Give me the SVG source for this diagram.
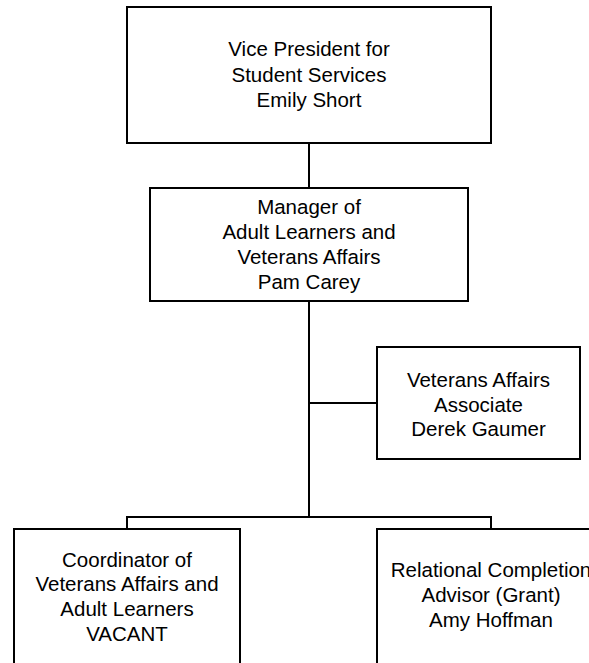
<svg xmlns="http://www.w3.org/2000/svg" width="589" height="663" viewBox="0 0 589 663">
<style>
.box{fill:#fff;stroke:#000;stroke-width:2}
.ln{stroke:#000;stroke-width:2;fill:none}
text{font-family:"Liberation Sans",Arial,sans-serif;font-size:20.5px;fill:#000;text-anchor:middle}
</style>
<rect width="589" height="663" fill="#fff"/>
<g id="connectors">
<path class="ln" d="M309 143V188M309 301V517M309 403H377M127 529V517H491V529"/>
</g>
<g id="vp">
<rect class="box" x="127" y="7" width="364" height="136"/>
<text x="309" y="56">Vice President for</text>
<text x="309" y="81.5">Student Services</text>
<text x="309" y="107">Emily Short</text>
</g>
<g id="manager">
<rect class="box" x="150" y="188" width="318" height="113"/>
<text x="309" y="214">Manager of</text>
<text x="309" y="239">Adult Learners and</text>
<text x="309" y="264">Veterans Affairs</text>
<text x="309" y="289">Pam Carey</text>
</g>
<g id="associate">
<rect class="box" x="377" y="347" width="203" height="112"/>
<text x="478.5" y="387">Veterans Affairs</text>
<text x="478.5" y="411.5">Associate</text>
<text x="478.5" y="436">Derek Gaumer</text>
</g>
<g id="coordinator">
<rect class="box" x="14" y="529" width="226" height="150"/>
<text x="127" y="566.5">Coordinator of</text>
<text x="127" y="591">Veterans Affairs and</text>
<text x="127" y="615.5">Adult Learners</text>
<text x="127" y="640.5">VACANT</text>
</g>
<g id="advisor">
<rect class="box" x="377" y="529" width="228" height="150"/>
<text x="491" y="577">Relational Completion</text>
<text x="491" y="601.5">Advisor (Grant)</text>
<text x="491" y="626.5">Amy Hoffman</text>
</g>
</svg>
